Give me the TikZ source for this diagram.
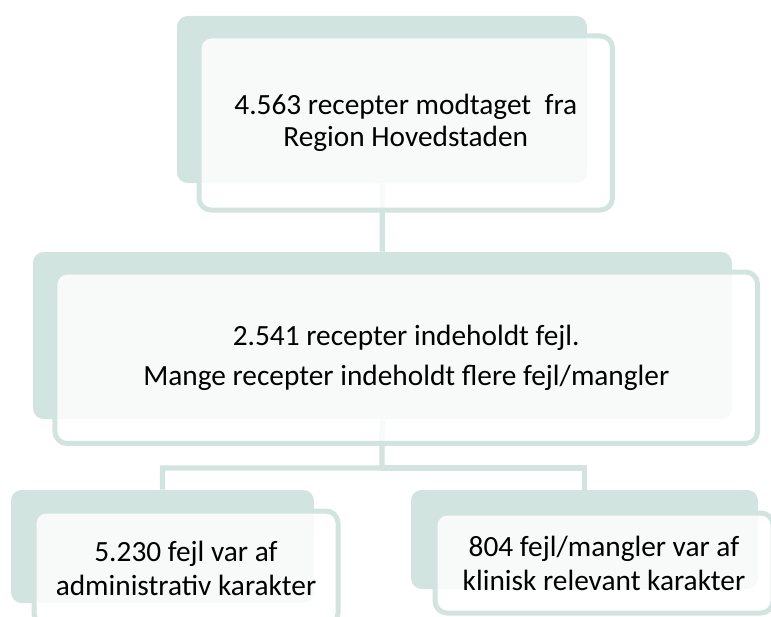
\documentclass[tikz,border=0pt]{standalone}
\usepackage{fontspec}
\setmainfont{Carlito}
\usetikzlibrary{backgrounds}
\definecolor{boxgreen}{RGB}{210,228,223}
\tikzset{
  backbox/.style={fill=boxgreen, rounded corners=8pt, inner sep=0pt},
  frontbox/.style={draw=boxgreen, line width=3.75pt, fill=white, fill opacity=0.85, text opacity=1,
    rounded corners=9pt, inner sep=0pt, align=center, font=\fontsize{22}{23.5}\selectfont},
  link/.style={draw=boxgreen, line width=4pt}
}

\begin{document}
\begin{tikzpicture}[x=0.75pt,y=0.75pt,yscale=-1,xscale=1]
		\useasboundingbox (0,0) rectangle (771,617);

		% back boxes
		\node [backbox, minimum width=307.5pt, minimum height=125.25pt] (topbg) at (382,99.5) {};
		\node [backbox, minimum width=524.25pt, minimum height=125.25pt] (midbg) at (382.5,335.5) {};
		\node [backbox, minimum width=227.25pt, minimum height=84.75pt] (leftbg) at (162.5,546.5) {};
		\node [backbox, minimum width=260.25pt, minimum height=74.25pt] (rightbg) at (584.5,539.5) {};

		% front boxes
		\node [frontbox, minimum width=310.1pt, minimum height=130.5pt] (top) at (405.75,123) {4.563 recepter modtaget~ fra\\Region Hovedstaden};
		\node [frontbox, minimum width=526.9pt, minimum height=128.6pt] (mid) at (406.25,357.75) {2.541 recepter indeholdt fejl.\\[6pt]Mange recepter indeholdt flere fejl/mangler};
		\node [frontbox, minimum width=228pt, minimum height=85.5pt] (left) at (186,568) {5.230 fejl var af\\[2pt]administrativ karakter};
		\node [frontbox, minimum width=253.5pt, minimum height=75pt] (right) at (604,563) {804 fejl/mangler var af\\[2pt]klinisk relevant karakter};

		% connectors
		\begin{scope}[on background layer]
		\coordinate (fork) at (382,468);
		\draw [link] (topbg) -- (midbg);
		\draw [link] (midbg) -- (fork) -| (leftbg);
		\draw [link] (fork) -| (rightbg);
		\end{scope}

\end{tikzpicture}
\end{document}
